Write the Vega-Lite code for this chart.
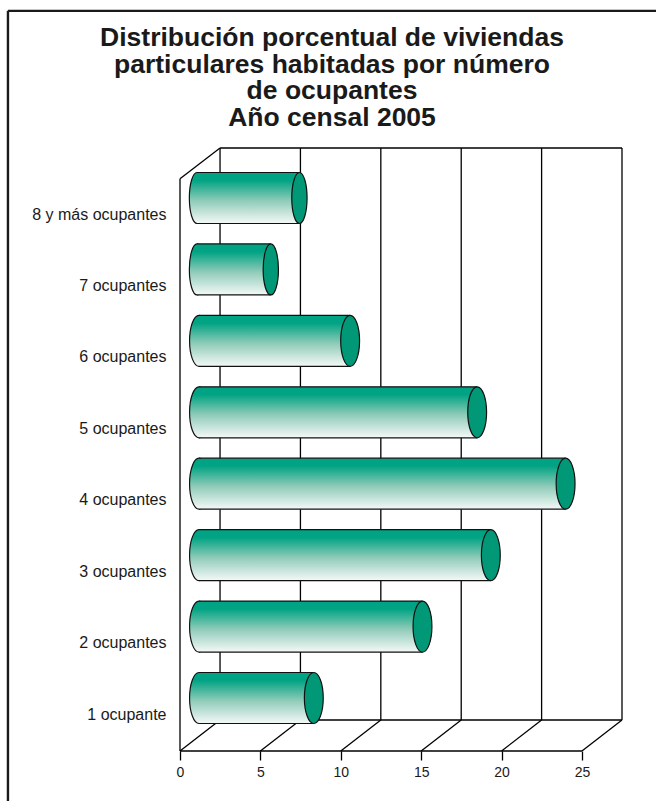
{
"$schema":"https://vega.github.io/schema/vega-lite/v6.json",
"autosize":{"type":"none"},
"padding":{"left":180,"top":148,"right":34,"bottom":50},
"width":442,"height":603,
"background":"white",
"view":{"stroke":null},
"title":{"text":["Distribución porcentual de viviendas","particulares habitadas por número","de ocupantes","Año censal 2005"],"font":"Liberation Sans","fontSize":26.5,"fontWeight":"bold","color":"#1a1a1a","lineHeight":26.7,"anchor":"middle","frame":"group","dx":-69,"offset":-122},
"datasets":{
"ocupantes":[
{"posicion":0,"ocupantes":"1 ocupante","porcentaje":7.14},
{"posicion":1,"ocupantes":"2 ocupantes","porcentaje":13.9},
{"posicion":2,"ocupantes":"3 ocupantes","porcentaje":18.15},
{"posicion":3,"ocupantes":"4 ocupantes","porcentaje":22.8},
{"posicion":4,"ocupantes":"5 ocupantes","porcentaje":17.3},
{"posicion":5,"ocupantes":"6 ocupantes","porcentaje":9.4},
{"posicion":6,"ocupantes":"7 ocupantes","porcentaje":4.59},
{"posicion":7,"ocupantes":"8 y más ocupantes","porcentaje":6.37}
],
"marco":[
{"x":-10.7,"x2":29.7,"y":9.62,"y2":9.62,"w":"borde"},
{"x":-10.7,"x2":-10.7,"y":9.62,"y2":-1.45,"w":"borde"},
{"x":0,"x2":0,"y":7.27,"y2":-0.742},
{"x":0,"x2":2.49,"y":7.27,"y2":7.7},
{"x":2.49,"x2":27.49,"y":7.7,"y2":7.7},
{"x":2.49,"x2":27.49,"y":-0.308,"y2":-0.308},
{"x":0,"x2":25,"y":-0.742,"y2":-0.742},
{"x":2.49,"x2":2.49,"y":7.7,"y2":-0.308},
{"x":7.49,"x2":7.49,"y":7.7,"y2":-0.308},
{"x":12.49,"x2":12.49,"y":7.7,"y2":-0.308},
{"x":17.49,"x2":17.49,"y":7.7,"y2":-0.308},
{"x":22.49,"x2":22.49,"y":7.7,"y2":-0.308},
{"x":27.49,"x2":27.49,"y":7.7,"y2":-0.308},
{"x":0,"x2":2.49,"y":-0.742,"y2":-0.308},
{"x":5,"x2":7.49,"y":-0.742,"y2":-0.308},
{"x":10,"x2":12.49,"y":-0.742,"y2":-0.308},
{"x":15,"x2":17.49,"y":-0.742,"y2":-0.308},
{"x":20,"x2":22.49,"y":-0.742,"y2":-0.308},
{"x":25,"x2":27.49,"y":-0.742,"y2":-0.308}
]
},
"layer":[
{"data":{"name":"marco"},"transform":[{"filter":"datum.w == 'borde'"}],"mark":{"type":"rule","color":"#1a1a1a","strokeWidth":2.4},
"encoding":{"x":{"field":"x","type":"quantitative"},"x2":{"field":"x2"},"y":{"field":"y","type":"quantitative"},"y2":{"field":"y2"}}},
{"data":{"name":"marco"},"transform":[{"filter":"datum.w != 'borde'"}],"mark":{"type":"rule","color":"#000000","strokeWidth":1.3},
"encoding":{
"x":{"field":"x","type":"quantitative","scale":{"domain":[0,27.49],"nice":false,"zero":false,"padding":0},"axis":{"values":[0,5,10,15,20,25],"title":null,"grid":false,"domain":false,"ticks":true,"tickSize":9,"tickColor":"#000000","tickWidth":1.3,"labelFont":"Liberation Sans","labelFontSize":14,"labelColor":"#1a1a1a","labelPadding":5,"labelFlush":false}},
"x2":{"field":"x2"},
"y":{"field":"y","type":"quantitative","scale":{"domain":[-0.742,7.7],"nice":false,"zero":false,"padding":0},"axis":{"values":[0,1,2,3,4,5,6,7],"title":null,"grid":false,"domain":false,"ticks":false,"labelPadding":14,"labelOffset":16,"labelFont":"Liberation Sans","labelFontSize":16,"labelColor":"#1a1a1a","labelExpr":"['1 ocupante','2 ocupantes','3 ocupantes','4 ocupantes','5 ocupantes','6 ocupantes','7 ocupantes','8 y más ocupantes'][datum.value]"}},
"y2":{"field":"y2"}}},
{"data":{"name":"ocupantes"},"mark":{"type":"point","shape":{"expr":"datum.posicion>=6?'M0,-1A0.3,1 0 1,1 0,1A0.3,1 0 1,1 0,-1Z':'M0,-1A0.37,1 0 1,1 0,1A0.37,1 0 1,1 0,-1Z'"},"size":2601,"filled":true,"opacity":1,"xOffset":{"expr":"datum.posicion>=6?17:19"},"stroke":"#111111","strokeWidth":1.2,"fill":{"gradient":"linear","x1":0,"y1":0,"x2":0,"y2":1,"stops":[{"offset":0,"color":"#00a383"},{"offset":0.15,"color":"#00a383"},{"offset":0.55,"color":"#8fcbb8"},{"offset":1,"color":"#f5f9f8"}]}},
"encoding":{"x":{"datum":0,"type":"quantitative"},"y":{"field":"posicion","type":"quantitative"}}},
{"data":{"name":"ocupantes"},"mark":{"type":"bar","orient":"horizontal","size":51,"xOffset":{"expr":"datum.posicion>=6?17:19"},"x2Offset":{"expr":"datum.posicion>=6?17:19"},"fill":{"gradient":"linear","x1":0,"y1":0,"x2":0,"y2":1,"stops":[{"offset":0,"color":"#00a383"},{"offset":0.15,"color":"#00a383"},{"offset":0.55,"color":"#8fcbb8"},{"offset":1,"color":"#f5f9f8"}]}},
"encoding":{"x":{"field":"porcentaje","type":"quantitative"},"x2":{"datum":0},"y":{"field":"posicion","type":"quantitative"}}},
{"data":{"name":"ocupantes"},"mark":{"type":"rule","color":"#111111","strokeWidth":1.2,"yOffset":-25.5,"xOffset":{"expr":"datum.posicion>=6?17:19"},"x2Offset":{"expr":"datum.posicion>=6?17:19"}},
"encoding":{"x":{"field":"porcentaje","type":"quantitative"},"x2":{"datum":0},"y":{"field":"posicion","type":"quantitative"}}},
{"data":{"name":"ocupantes"},"mark":{"type":"rule","color":"#111111","strokeWidth":1.2,"yOffset":25.5,"xOffset":{"expr":"datum.posicion>=6?17:19"},"x2Offset":{"expr":"datum.posicion>=6?17:19"}},
"encoding":{"x":{"field":"porcentaje","type":"quantitative"},"x2":{"datum":0},"y":{"field":"posicion","type":"quantitative"}}},
{"data":{"name":"ocupantes"},"mark":{"type":"point","shape":{"expr":"datum.posicion>=6?'M0,-1A0.3,1 0 1,1 0,1A0.3,1 0 1,1 0,-1Z':'M0,-1A0.37,1 0 1,1 0,1A0.37,1 0 1,1 0,-1Z'"},"size":2601,"filled":true,"opacity":1,"xOffset":{"expr":"datum.posicion>=6?17:19"},"stroke":"#111111","strokeWidth":1.2,"fill":"#009877"},
"encoding":{"x":{"field":"porcentaje","type":"quantitative"},"y":{"field":"posicion","type":"quantitative"}}}
]
}
